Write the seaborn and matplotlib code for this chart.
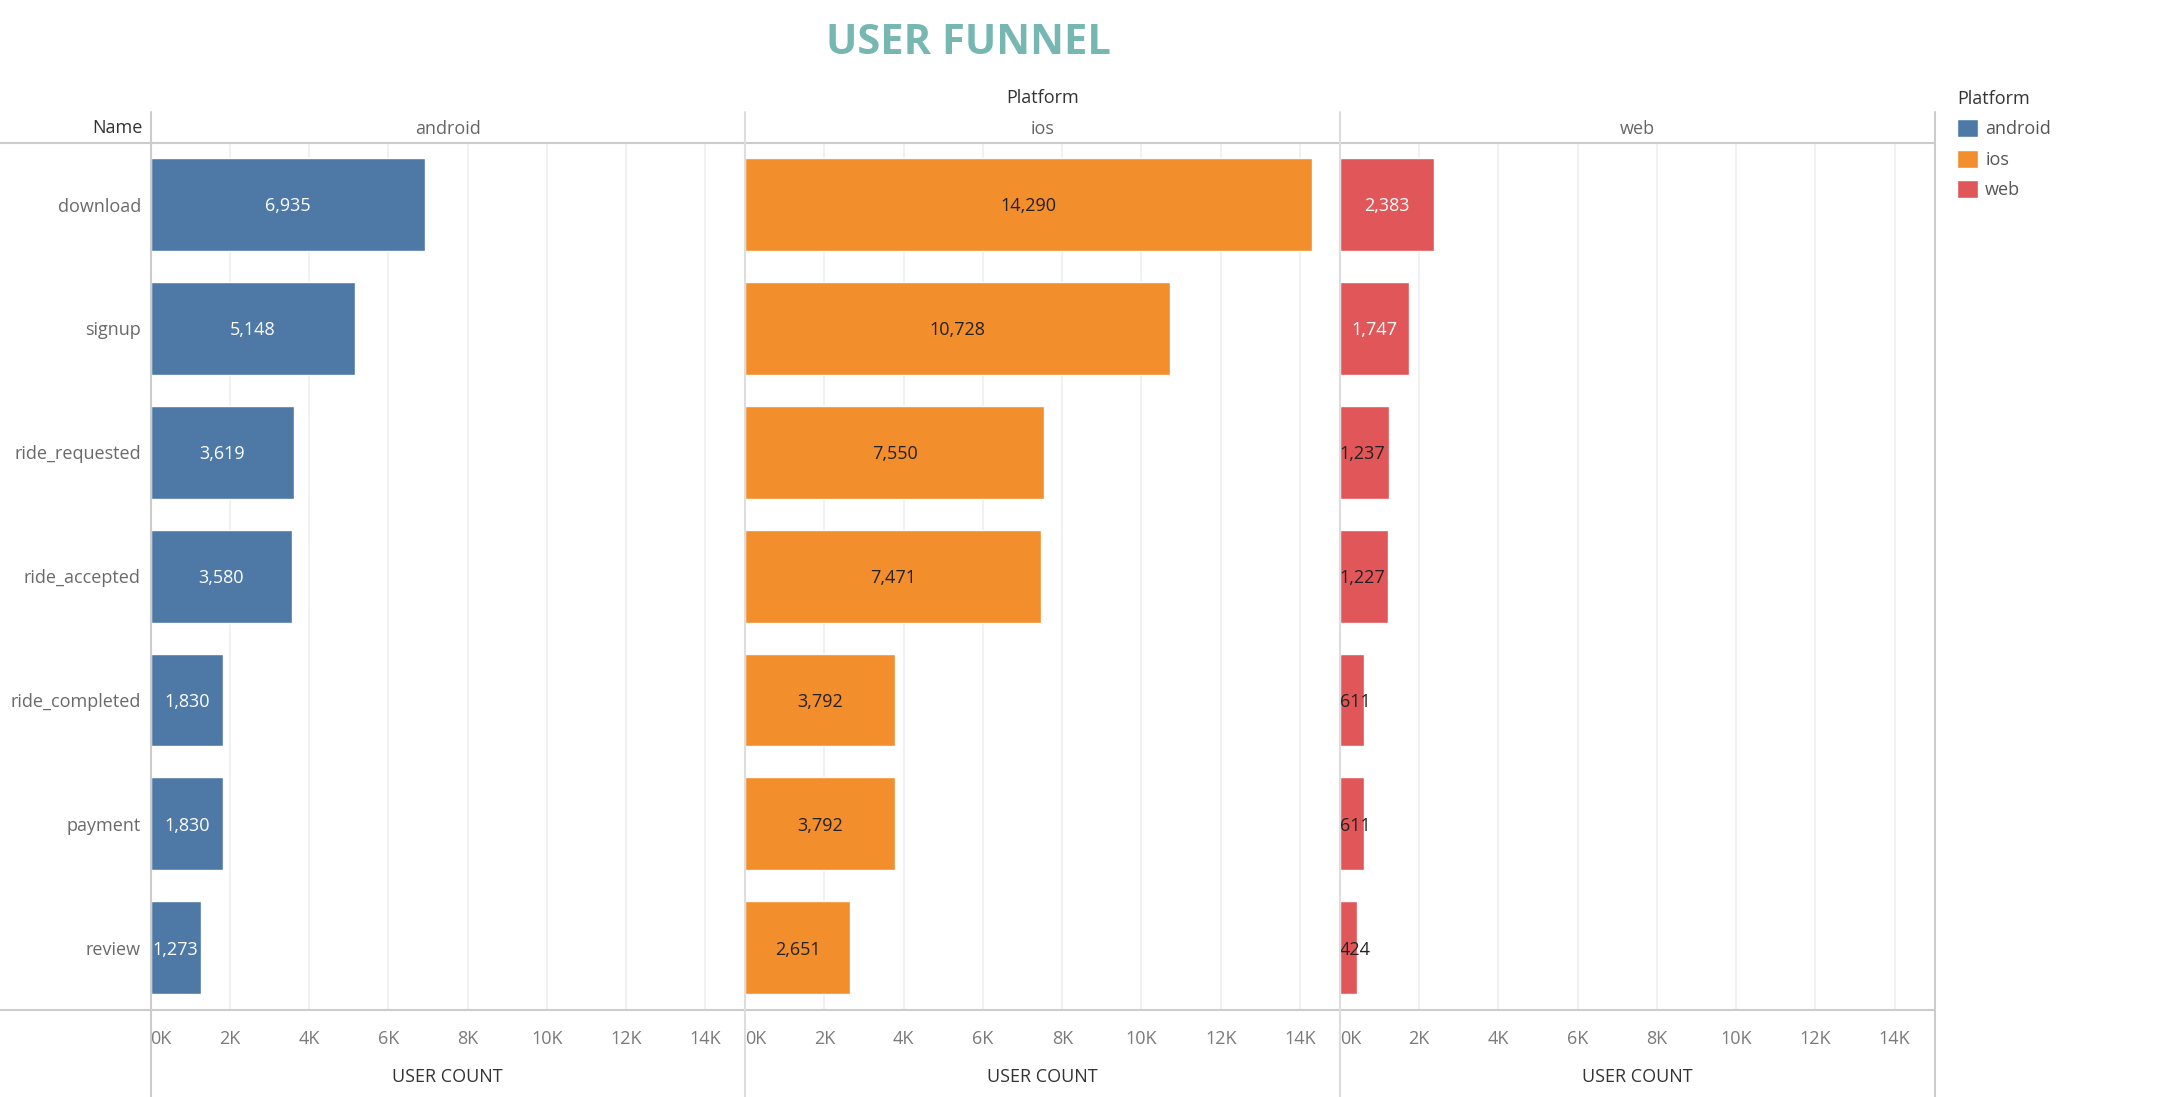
import numpy as np
import pandas as pd
import seaborn as sns
import matplotlib.pyplot as plt
from matplotlib.lines import Line2D
from matplotlib.patches import Patch

# funnel steps and user counts per platform
names = ['download', 'signup', 'ride_requested', 'ride_accepted',
         'ride_completed', 'payment', 'review']
platforms = ['android', 'ios', 'web']
android = [6935, 5148, 3619, 3580, 1830, 1830, 1273]
ios = [14290, 10728, 7550, 7471, 3792, 3792, 2651]
web = [2383, 1747, 1237, 1227, 611, 611, 424]
xticks = [0, 2000, 4000, 6000, 8000, 10000, 12000, 14000]
xtick_labels = ['0K', '2K', '4K', '6K', '8K', '10K', '12K', '14K']

colors = {'android': '#4E79A7', 'ios': '#F28E2B', 'web': '#E15759'}

df = pd.DataFrame({
    'Name': names * 3,
    'Platform': np.repeat(platforms, len(names)),
    'count': android + ios + web,
})

sns.set_style('white')
plt.rcParams['font.family'] = ['Open Sans', 'DejaVu Sans']
fs = 13

W, H = 2163, 1097
fig = plt.figure(figsize=(W / 100, H / 100), dpi=100)


def fx(x):
    return x / W


def fy(y):
    return 1 - y / H


top, bottom = 142.7, 1009.6
pw = 594.6
lefts = [150.5, 745.1, 1339.7]
xmax = 15000
renderer = fig.canvas.get_renderer()

for k, (plat, x0) in enumerate(zip(platforms, lefts)):
    ax = fig.add_axes([fx(x0), fy(bottom), pw / W, (bottom - top) / H])
    sub = df[df['Platform'] == plat]
    sns.barplot(data=sub, x='count', y='Name', order=names, color=colors[plat],
                width=0.75, saturation=1, errorbar=None, ax=ax)
    ax.set_xlim(0, xmax)
    ax.set_ylim(6.5, -0.5)
    for s in ax.spines.values():
        s.set_visible(False)
    ax.set_xticks(xticks)
    ax.set_xticklabels(xtick_labels)
    ax.get_xticklabels()[0].set_ha('left')
    ax.xaxis.grid(True, color='#efefef', lw=1.2)
    ax.set_axisbelow(True)
    ax.tick_params(axis='x', length=6, color='#efefef', pad=9,
                   labelsize=fs, labelcolor='#7a7a7a')
    ax.tick_params(axis='y', length=0, pad=7, labelsize=fs, labelcolor='#6a6a6a')
    ax.set_ylabel('')
    ax.set_xlabel('USER COUNT', fontsize=fs, color='#333333', labelpad=14)
    if k > 0:
        ax.set_yticklabels([])

    # value labels: centred when they fit, else from the bar start
    for i, v in enumerate(sub['count']):
        t = ax.text(v / 2, i + 0.015, f'{v:,}', ha='center', va='center',
                    fontsize=fs)
        tw = t.get_window_extent(renderer=renderer).width
        bw = v / xmax * pw
        fits = bw >= max(tw, 49.8)
        if not fits:
            t.set_x(0)
            t.set_ha('left')
        t.set_color('white' if fits and plat != 'ios' else '#222222')

    fig.text(fx(x0 + pw / 2), fy(129.3), plat, ha='center', va='center',
             fontsize=fs, color='#666666')

# frame lines
line_c = '#cccccc'
fig.add_artist(Line2D([0, fx(1934.6)], [fy(top)] * 2, transform=fig.transFigure,
                      color=line_c, lw=1.5))
fig.add_artist(Line2D([0, fx(1934.6)], [fy(bottom)] * 2, transform=fig.transFigure,
                      color=line_c, lw=1.5))
for x in lefts + [1934.6]:
    fig.add_artist(Line2D([fx(x)] * 2, [fy(112), 0], transform=fig.transFigure,
                          color=line_c if x in (lefts[0], 1934.6) else '#dddddd',
                          lw=1.5))

fig.text(fx(143), fy(128), 'Name', ha='right', va='center', fontsize=fs,
         color='#333333')
fig.text(fx(1042.5), fy(98), 'Platform', ha='center', va='center', fontsize=fs,
         color='#333333')
fig.text(fx(968), fy(44), 'USER FUNNEL', ha='center', va='center', fontsize=30,
         fontweight='bold', color='#76B7B2')

handles = [Patch(facecolor=colors[p], label=p) for p in platforms]
leg = fig.legend(handles=handles, title='Platform', loc='upper left',
                 bbox_to_anchor=(fx(1950), fy(83)), frameon=False, fontsize=fs,
                 title_fontsize=fs, handlelength=1.15, handleheight=1.15,
                 handletextpad=0.4, labelspacing=0.62, alignment='left',
                 borderaxespad=0)
for t in leg.get_texts():
    t.set_color('#555555')
leg.get_title().set_color('#333333')

fig.savefig('out.png', dpi=100)
